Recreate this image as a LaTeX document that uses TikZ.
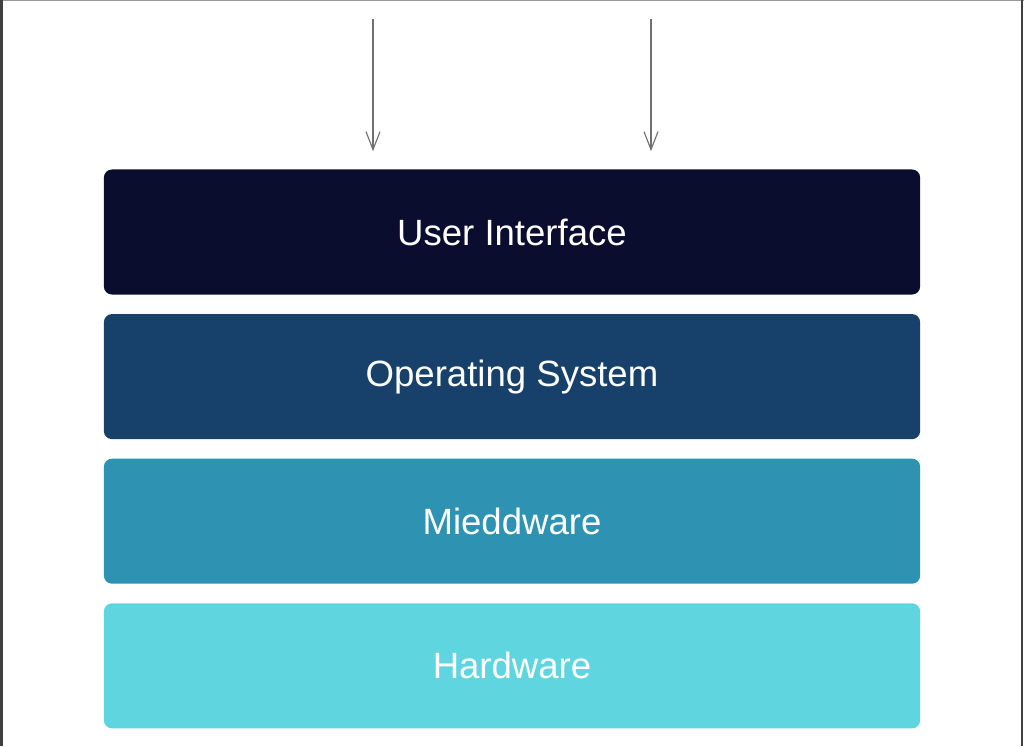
\documentclass[tikz,border=0pt]{standalone}
\usepackage{fontspec}
\setmainfont{Liberation Sans}
\usetikzlibrary{positioning,arrows.meta}

\definecolor{uicol}{HTML}{0B0D2F}
\definecolor{oscol}{HTML}{17406B}
\definecolor{mwcol}{HTML}{2E93B2}
\definecolor{hwcol}{HTML}{5FD6DF}
\definecolor{arrcol}{HTML}{707070}

\begin{document}
\begin{tikzpicture}[x=0.025cm,y=-0.025cm,
  node distance=0.475cm,
  layer/.style={rounded corners=0.2cm, minimum width=20.4cm, minimum height=3.125cm,
    text=white, font=\fontsize{26}{30}\selectfont, inner sep=0pt},
  feed/.style={draw=arrcol, line width=0.8pt, -{Straight Barb[length=0.45cm,width=0.35cm,line width=0.8pt]}}]
  \useasboundingbox (0,0) rectangle (1024,746);
  % frame
  \draw[draw=black!40, line width=1pt] (0,0.5) -- (1024,0.5);
  \draw[draw=black!75, line width=1.5pt] (1.5,0) -- (1.5,746);
  \draw[draw=black!75, line width=1.5pt] (1022,0) -- (1022,746);
  % stack
  \node[layer, fill=uicol] (ui) at (512,232) {User Interface};
  \node[layer, fill=oscol, below=of ui] (os) {Operating System};
  \node[layer, fill=mwcol, below=of os] (mw) {Mieddware};
  \node[layer, fill=hwcol, below=of mw] (hw) {Hardware};
  % inputs
  \coordinate (in1) at (373,19);
  \coordinate (in2) at (651,19);
  \draw[feed, shorten >=0.45cm] (in1) -- (in1 |- ui.north);
  \draw[feed, shorten >=0.45cm] (in2) -- (in2 |- ui.north);
\end{tikzpicture}
\end{document}
